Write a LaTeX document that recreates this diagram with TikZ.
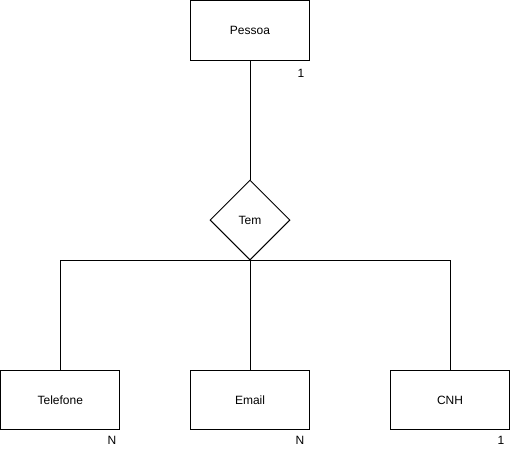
\documentclass[tikz,border=0pt]{standalone}
\usepackage{fontspec}
\setmainfont{Liberation Sans}
\usetikzlibrary{shapes.geometric}
\begin{document}
\begin{tikzpicture}[x=1pt,y=-1pt,
  every node/.style={font=\fontsize{12}{14}\selectfont},
  entity/.style={draw,line width=1pt,minimum width=119pt,minimum height=59.5pt,inner sep=0pt},
  rel/.style={draw,diamond,line width=1pt,minimum width=80pt,minimum height=80pt,inner sep=0pt,aspect=1},
  conn/.style={line width=1pt},
  card/.style={inner sep=0pt}]
\useasboundingbox (0,0) rectangle (511,451);
\node[entity] (pessoa) at (250,30.25) {Pessoa};
\node[rel] (tem) at (250,220) {Tem};
\node[entity] (tel) at (60.25,400) {Telefone};
\node[entity] (email) at (250,400) {Email};
\node[entity] (cnh) at (450,400) {CNH};
\coordinate (j) at (250,260);
\draw[conn] (pessoa.south) -- (tem.north);
\draw[conn] (tem.south) -- (email.north);
\draw[conn] (tem.south) -| (tel.north);
\draw[conn] (tem.south) -| (cnh.north);
\node[card] (c1) at (301,73) {1};
\node[card] (c2) at (112,440) {N};
\node[card] (c3) at (300,440) {N};
\node[card] (c4) at (501,440) {1};
\end{tikzpicture}
\end{document}
